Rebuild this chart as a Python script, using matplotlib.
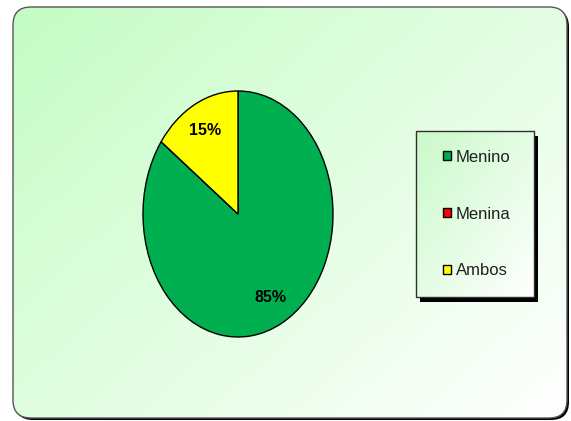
import numpy as np
import matplotlib
matplotlib.use("Agg")
import matplotlib.pyplot as plt
from matplotlib.patches import FancyBboxPatch, Rectangle

plt.rcParams["font.family"] = ["Liberation Sans", "DejaVu Sans"]

# data
labels = ["Menino", "Menina", "Ambos"]
values = [85, 0, 15]
colors = ["#00b050", "#ff0000", "#ffff00"]

W, H = 571, 421
fig = plt.figure(figsize=(W / 100, H / 100), dpi=100)
fig.patch.set_facecolor("white")

# background panel, full-figure axes in pixel units
bg = fig.add_axes([0, 0, 1, 1])
bg.set_xlim(0, W)
bg.set_ylim(H, 0)
bg.axis("off")


def gradient(c0, wx=0.55, wy=0.45):
    xx, yy = np.meshgrid(np.linspace(0, 1, 200), np.linspace(0, 1, 160))
    t = np.clip(wx * xx + wy * yy, 0, 1)
    c0 = np.array(c0)
    return c0 * (1 - t[..., None]) + t[..., None]


# outer rounded panel
x0, y0, bw, bh = 13, 7, 554, 411
style = "round,pad=0,rounding_size=18"
bg.add_patch(FancyBboxPatch((x0 + 2, y0 + 2), bw, bh, boxstyle=style,
                            facecolor="black", edgecolor="none", zorder=0))
im = bg.imshow(gradient([0.77, 0.99, 0.77]),
               extent=(x0, x0 + bw, y0 + bh, y0), aspect="auto", zorder=1)
im.set_clip_path(FancyBboxPatch((x0, y0), bw, bh, boxstyle=style,
                                facecolor="none", edgecolor="none", transform=bg.transData))
bg.add_patch(FancyBboxPatch((x0, y0), bw, bh, boxstyle=style, facecolor="none",
                            edgecolor="#555555", linewidth=1, zorder=3))

# legend box with drop shadow
lx, ly, lw, lh = 416, 131, 118, 166
bg.add_patch(Rectangle((lx + 4, ly + 5), lw, lh, facecolor="black", edgecolor="none", zorder=4))
bg.imshow(gradient([0.79, 0.98, 0.79], 0.5, 0.5),
          extent=(lx, lx + lw, ly + lh, ly), aspect="auto", zorder=5)
bg.add_patch(Rectangle((lx, ly), lw, lh, facecolor="none", edgecolor="#303030",
                       linewidth=1, zorder=6))
bg.set_xlim(0, W)
bg.set_ylim(H, 0)

# pie (elliptical)
ax = fig.add_axes([143 / W, (H - 337) / H, 190 / W, 246 / H])
wedges, texts, autotexts = ax.pie(
    values, colors=colors, startangle=90, counterclock=False,
    wedgeprops=dict(edgecolor="black", linewidth=1),
    autopct=lambda p: f"{p:.0f}%" if p > 0 else "",
    pctdistance=0.76,
    textprops=dict(fontsize=11.5, fontweight="bold", color="black"))
ax.set_aspect("auto")
ax.set_xlim(-1.0, 1.0)
ax.set_ylim(-1.0, 1.0)
ax.patch.set_alpha(0)

leg = fig.legend(wedges, labels, loc="center left", bbox_to_anchor=(443 / W, 1 - 214 / H),
                 fontsize=12, handlelength=0.45, handleheight=0.45, handletextpad=0.3,
                 labelspacing=2.5, borderpad=0, borderaxespad=0, frameon=False)
leg.set_zorder(10)
for txt in leg.get_texts():
    txt.set_color("#202020")

fig.savefig("out.png", dpi=100)
